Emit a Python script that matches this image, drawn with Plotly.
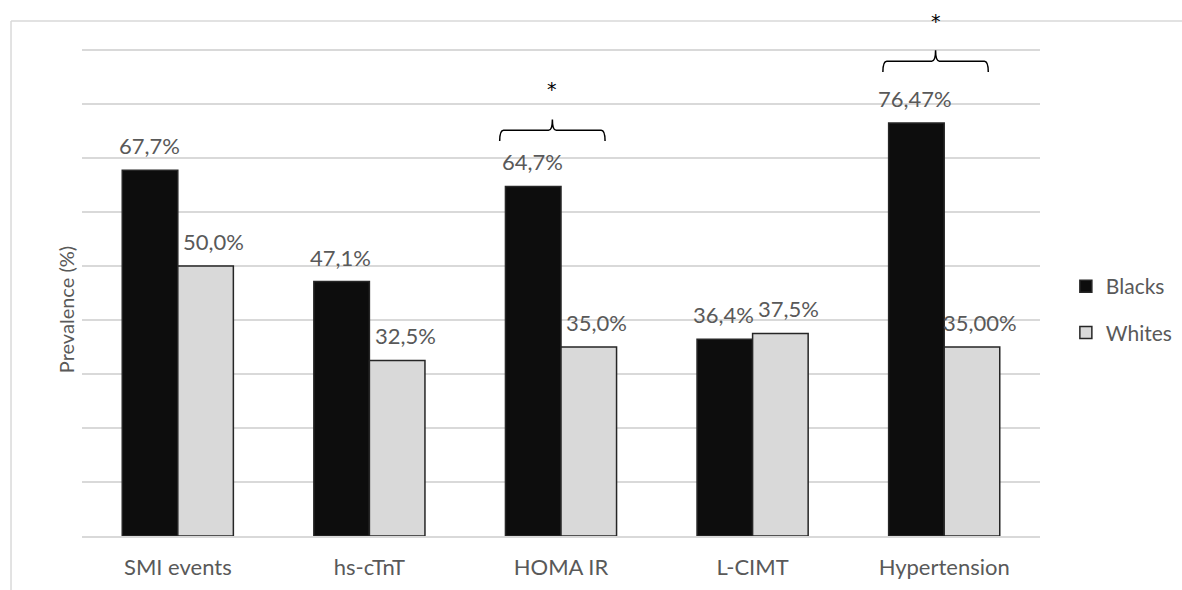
import plotly.graph_objects as go

categories = ["SMI events", "hs-cTnT", "HOMA IR", "L-CIMT", "Hypertension"]
blacks = [67.7, 47.1, 64.7, 36.4, 76.47]
whites = [50.0, 32.5, 35.0, 37.5, 35.0]
blacks_labels = ["67,7%", "47,1%", "64,7%", "36,4%", "76,47%"]
whites_labels = ["50,0%", "32,5%", "35,0%", "37,5%", "35,00%"]
# significance markers: category index, brace bottom value, asterisk value
sig_index = [2, 4]
sig_brace = [73.1, 85.9]
sig_star = [83.1, 95.7]

FONT = "Lato"
GREY = "#595959"
GRID = "#d9d9d9"
BARGAP = 0.42

fig = go.Figure()
fig.add_trace(go.Bar(
    x=categories, y=blacks, name="Blacks",
    marker=dict(color="#0d0d0d", line=dict(color="#262626", width=1.5)),
    legendgroup="a",
))
fig.add_trace(go.Bar(
    x=categories, y=whites, name="Whites",
    marker=dict(color="#d9d9d9", line=dict(color="#262626", width=1.5)),
    legendgroup="b",
))

annotations = []
half = (1 - BARGAP) / 4
for series, labels, off, xs in ((blacks, blacks_labels, -half, -1),
                                (whites, whites_labels, half, 8)):
    for i, (v, t) in enumerate(zip(series, labels)):
        annotations.append(dict(x=i + off, y=v, xref="x", yref="y", text=t,
                                showarrow=False, xanchor="center", yanchor="bottom",
                                yshift=9, xshift=xs,
                                font=dict(family=FONT, size=22, color=GREY)))

shapes = []
for i, yb, ys in zip(sig_index, sig_brace, sig_star):
    x0 = i - 0.32
    x1 = i + 0.23
    xm = (x0 + x1) / 2
    yh = yb + 2.0
    yt = yb + 4.0
    r = 0.02
    path = (f"M{x0},{yb} Q{x0},{yh} {x0 + r},{yh} L{xm - r},{yh} "
            f"Q{xm},{yh} {xm},{yt} Q{xm},{yh} {xm + r},{yh} "
            f"L{x1 - r},{yh} Q{x1},{yh} {x1},{yb}")
    shapes.append(dict(type="path", path=path, xref="x", yref="y",
                       line=dict(color="#000000", width=1.5)))
    annotations.append(dict(x=xm, y=ys, xref="x", yref="y", text="*",
                            showarrow=False, yanchor="middle", yshift=-2,
                            font=dict(family="DejaVu Sans", size=19, color="#000000")))

# chart border (top and left visible)
shapes.append(dict(type="line", xref="paper", yref="paper",
                   x0=-0.0741, x1=1.2, y0=0.983, y1=0.983,
                   line=dict(color=GRID, width=1.5)))
shapes.append(dict(type="line", xref="paper", yref="paper",
                   x0=-0.0741, x1=-0.0741, y0=0.983, y1=-0.2,
                   line=dict(color=GRID, width=1.5)))

annotations.append(dict(x=-0.0167, y=0.431, xref="paper", yref="paper",
                        text="Prevalence (%)", textangle=-90, showarrow=False,
                        xanchor="center", yanchor="middle",
                        font=dict(family=FONT, size=20, color=GREY)))

fig.update_layout(
    width=1182, height=590,
    margin=dict(l=82, r=142, t=12, b=54, autoexpand=False),
    paper_bgcolor="white", plot_bgcolor="white",
    barmode="group", bargap=BARGAP, bargroupgap=0,
    font=dict(family=FONT, color=GREY),
    showlegend=True,
    legend=dict(x=1.027, y=0.432, xanchor="left", yanchor="middle",
                traceorder="grouped", tracegroupgap=16,
                font=dict(family=FONT, size=21, color=GREY)),
    shapes=shapes, annotations=annotations,
)
fig.update_xaxes(showgrid=False, showline=True, linecolor=GRID, linewidth=1.5,
                 ticks="", tickfont=dict(family=FONT, size=22, color=GREY),
                 ticklabelstandoff=11)
fig.update_yaxes(range=[0, 97], dtick=10, showgrid=True, gridcolor=GRID,
                 gridwidth=1.5, showticklabels=False, zeroline=False,
                 showline=False)

fig.write_html("out.html", config={"displayModeBar": False},
               post_script="document.body.style.margin='0';document.body.style.padding='0';")
